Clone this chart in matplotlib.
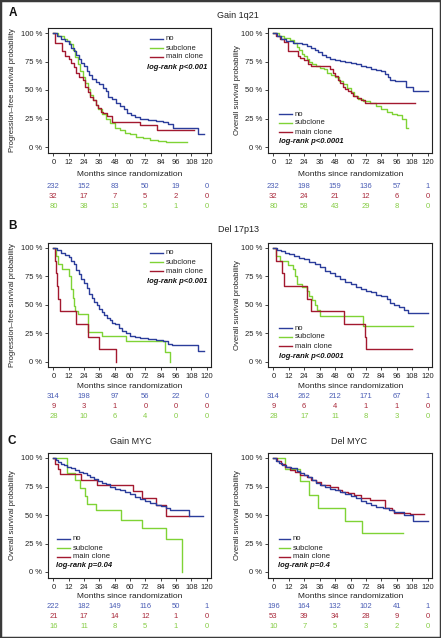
import matplotlib
matplotlib.use("Agg")
import matplotlib.pyplot as plt
import matplotlib.transforms as mtransforms
from matplotlib.lines import Line2D
from matplotlib.patches import Rectangle

plt.rcParams['font.family'] = ['Liberation Sans', 'DejaVu Sans']

# ---------------- data ----------------
month_ticks = [0, 12, 24, 36, 48, 60, 72, 84, 96, 108, 120]
risk_months = [0, 24, 48, 72, 96, 120]
surv_ticks = [0, 0.25, 0.5, 0.75, 1.0]
surv_labels = ['0 %', '25 %', '50 %', '75 %', '100 %']
group_labels = ['no', 'subclone', 'main clone']

# A: Gain 1q21, progression-free survival
a_pfs_no_t = [0, 3, 6, 9, 12, 14, 16, 18, 20, 22, 24, 26, 28, 30, 33, 36, 39, 41, 43, 46, 49, 52, 55, 58, 61, 64, 68, 74, 80, 86, 90, 94, 113, 118]
a_pfs_no_s = [1.0, 0.97, 0.95, 0.93, 0.90, 0.87, 0.84, 0.81, 0.77, 0.74, 0.71, 0.67, 0.63, 0.60, 0.57, 0.55, 0.52, 0.49, 0.44, 0.42, 0.39, 0.36, 0.33, 0.30, 0.28, 0.26, 0.25, 0.24, 0.23, 0.22, 0.20, 0.17, 0.115, 0.115]
a_pfs_sub_t = [0, 4, 8, 11, 13, 15, 17, 19, 21, 23, 25, 27, 29, 31, 33, 35, 38, 41, 44, 48, 52, 56, 60, 65, 70, 76, 82, 88, 96, 105]
a_pfs_sub_s = [1.0, 0.97, 0.95, 0.93, 0.90, 0.85, 0.79, 0.73, 0.67, 0.61, 0.56, 0.51, 0.46, 0.41, 0.37, 0.33, 0.29, 0.25, 0.21, 0.17, 0.145, 0.125, 0.11, 0.09, 0.075, 0.065, 0.055, 0.045, 0.04, 0.04]
a_pfs_main_t = [0, 1, 7, 9, 12, 14, 16, 18, 20, 23, 25, 27, 29, 31, 33, 35, 37, 39, 42, 46, 68, 81, 110]
a_pfs_main_s = [1.0, 0.91, 0.84, 0.80, 0.77, 0.74, 0.70, 0.65, 0.61, 0.59, 0.53, 0.48, 0.44, 0.41, 0.37, 0.34, 0.31, 0.30, 0.27, 0.22, 0.19, 0.15, 0.15]
a_pfs_risk = [[232, 152, 83, 50, 19, 0], [32, 17, 7, 5, 2, 0], [80, 38, 13, 5, 1, 0]]

# A: Gain 1q21, overall survival
a_os_no_t = [0, 3, 6, 10, 15, 22, 26, 29, 32, 35, 38, 41, 44, 48, 52, 56, 60, 64, 68, 72, 76, 80, 84, 87, 89, 91, 95, 103, 109, 120]
a_os_no_s = [1.0, 0.97, 0.95, 0.93, 0.915, 0.905, 0.89, 0.87, 0.85, 0.83, 0.81, 0.79, 0.775, 0.765, 0.755, 0.745, 0.735, 0.725, 0.71, 0.70, 0.685, 0.675, 0.665, 0.64, 0.61, 0.59, 0.575, 0.53, 0.49, 0.49]
a_os_sub_t = [0, 4, 8, 13, 16, 18, 20, 22, 24, 26, 28, 30, 33, 36, 39, 42, 45, 48, 51, 54, 57, 60, 63, 66, 70, 75, 80, 84, 88, 92, 96, 100, 103, 105]
a_os_sub_s = [1.0, 0.97, 0.955, 0.94, 0.91, 0.88, 0.85, 0.82, 0.80, 0.77, 0.75, 0.73, 0.71, 0.69, 0.68, 0.65, 0.63, 0.61, 0.58, 0.55, 0.52, 0.48, 0.45, 0.42, 0.40, 0.39, 0.36, 0.33, 0.31, 0.29, 0.28, 0.25, 0.17, 0.17]
a_os_main_t = [0, 2, 5, 8, 11, 19, 21, 24, 27, 29, 44, 46, 48, 50, 52, 54, 56, 58, 60, 62, 65, 68, 71, 110]
a_os_main_s = [1.0, 0.97, 0.95, 0.92, 0.84, 0.80, 0.78, 0.76, 0.73, 0.71, 0.68, 0.65, 0.62, 0.59, 0.56, 0.53, 0.51, 0.49, 0.47, 0.45, 0.43, 0.41, 0.39, 0.39]
a_os_risk = [[232, 198, 159, 136, 57, 1], [32, 24, 21, 12, 6, 0], [80, 58, 43, 29, 8, 0]]

# B: Del 17p13, progression-free survival
b_pfs_no_t = [0, 3, 6, 9, 12, 14, 16, 18, 20, 22, 24, 26, 28, 30, 32, 34, 36, 38, 40, 42, 44, 46, 48, 51, 54, 57, 60, 64, 68, 74, 80, 86, 90, 93, 113, 118]
b_pfs_no_s = [1.0, 0.98, 0.96, 0.94, 0.92, 0.89, 0.86, 0.81, 0.77, 0.73, 0.69, 0.645, 0.60, 0.565, 0.53, 0.50, 0.465, 0.44, 0.415, 0.39, 0.365, 0.345, 0.33, 0.30, 0.275, 0.25, 0.23, 0.22, 0.21, 0.20, 0.19, 0.18, 0.16, 0.145, 0.095, 0.095]
b_pfs_sub_t = [0, 2, 4, 7, 12, 14, 15, 16, 17, 19, 27, 38, 57, 87, 91]
b_pfs_sub_s = [1.0, 0.93, 0.86, 0.82, 0.75, 0.64, 0.56, 0.49, 0.45, 0.42, 0.26, 0.225, 0.18, 0.09, 0.0]
b_pfs_main_t = [0, 1, 2, 3, 4, 5, 18, 27, 36, 49]
b_pfs_main_s = [1.0, 0.889, 0.778, 0.667, 0.556, 0.444, 0.333, 0.222, 0.111, 0.0]
b_pfs_risk = [[314, 198, 97, 56, 22, 0], [9, 3, 1, 0, 0, 0], [28, 10, 6, 4, 0, 0]]

# B: Del 17p13, overall survival
b_os_no_t = [0, 3, 6, 9, 12, 16, 20, 24, 28, 32, 36, 40, 44, 48, 52, 56, 60, 64, 68, 72, 76, 80, 84, 88, 91, 94, 98, 102, 105, 120]
b_os_no_s = [1.0, 0.985, 0.975, 0.96, 0.945, 0.93, 0.915, 0.90, 0.88, 0.86, 0.83, 0.80, 0.78, 0.755, 0.73, 0.70, 0.68, 0.66, 0.64, 0.625, 0.61, 0.59, 0.575, 0.55, 0.52, 0.50, 0.485, 0.46, 0.43, 0.43]
b_os_sub_t = [0, 2, 5, 11, 15, 17, 18, 22, 26, 28, 30, 32, 34, 36, 70, 109]
b_os_sub_s = [1.0, 0.93, 0.89, 0.855, 0.82, 0.75, 0.68, 0.66, 0.62, 0.58, 0.54, 0.50, 0.46, 0.40, 0.32, 0.32]
b_os_main_t = [0, 2, 7, 8, 26, 29, 55, 71, 72, 108]
b_os_main_s = [1.0, 0.889, 0.778, 0.667, 0.556, 0.444, 0.333, 0.222, 0.111, 0.111]
b_os_risk = [[314, 262, 212, 171, 67, 1], [9, 6, 4, 1, 1, 0], [28, 17, 11, 8, 3, 0]]

# C: Gain MYC, overall survival
c_gain_no_t = [0, 2, 4, 6, 8, 11, 14, 17, 20, 23, 26, 29, 32, 35, 38, 41, 44, 48, 52, 56, 60, 64, 68, 72, 76, 80, 84, 88, 91, 106, 117]
c_gain_no_s = [1.0, 0.98, 0.965, 0.95, 0.935, 0.925, 0.91, 0.895, 0.88, 0.865, 0.85, 0.835, 0.82, 0.80, 0.785, 0.77, 0.75, 0.73, 0.715, 0.70, 0.68, 0.66, 0.64, 0.625, 0.605, 0.59, 0.575, 0.56, 0.545, 0.495, 0.495]
c_gain_sub_t = [0, 11, 17, 21, 25, 26, 33, 53, 69, 88, 101]
c_gain_sub_s = [1.0, 0.87, 0.81, 0.74, 0.67, 0.60, 0.54, 0.46, 0.39, 0.29, 0.0]
c_gain_main_t = [0, 1, 4, 5, 22, 34, 62, 69, 80, 88, 106]
c_gain_main_s = [1.0, 0.95, 0.905, 0.86, 0.81, 0.76, 0.71, 0.65, 0.59, 0.49, 0.49]
c_gain_risk = [[222, 182, 149, 116, 50, 1], [21, 17, 14, 12, 1, 0], [16, 11, 8, 5, 1, 0]]

# C: Del MYC, overall survival
c_del_no_t = [0, 2, 4, 7, 10, 14, 18, 21, 24, 27, 30, 33, 36, 40, 44, 48, 52, 56, 60, 64, 68, 72, 76, 80, 85, 90, 94, 102, 109, 120]
c_del_no_s = [1.0, 0.97, 0.955, 0.94, 0.925, 0.91, 0.89, 0.87, 0.85, 0.83, 0.805, 0.785, 0.765, 0.745, 0.73, 0.72, 0.70, 0.685, 0.665, 0.645, 0.625, 0.605, 0.585, 0.57, 0.56, 0.545, 0.53, 0.50, 0.445, 0.445]
c_del_sub_t = [0, 9, 21, 28, 35, 56, 69, 101]
c_del_sub_s = [1.0, 0.9, 0.8, 0.675, 0.56, 0.45, 0.34, 0.34]
c_del_main_t = [0, 3, 6, 9, 13, 17, 21, 26, 29, 33, 37, 44, 50, 53, 58, 63, 68, 75, 87, 92, 94, 106, 117]
c_del_main_s = [1.0, 0.97, 0.95, 0.92, 0.895, 0.88, 0.85, 0.835, 0.805, 0.79, 0.765, 0.75, 0.72, 0.70, 0.69, 0.675, 0.65, 0.635, 0.56, 0.545, 0.52, 0.505, 0.505]
c_del_risk = [[196, 164, 132, 102, 41, 1], [53, 39, 34, 28, 9, 0], [10, 7, 5, 3, 2, 0]]

# ---------------- styling ----------------
W, H = 441, 638
blue, green, red = '#2b3d9b', '#7fd335', '#a3192f'
risk_colors = ['#4a5db5', '#a8283a', '#86cc45']  # no, main clone, subclone
narrow = ['Liberation Sans Narrow', 'Liberation Sans', 'DejaVu Sans']

fig = plt.figure(figsize=(W / 100, H / 100), dpi=100)


def px(x, y):
    return x / W, 1 - y / H


def draw_panel(box, curves, risk, risk_y, ylabel, ylabel_x, xlabel_y, leg, pval):
    x0, y0, x1, y1 = box
    ax = fig.add_axes([x0 / W, 1 - y1 / H, (x1 - x0) / W, (y1 - y0) / H])
    # draw order: subclone, main clone, no
    for (t, s), color in zip(curves, [green, red, blue]):
        ax.step(t, s, where='post', color=color, lw=1.0)
    ax.set_xlim(-4.2, 123.4)
    # 0..1 spans about 114 px, with ~5 px slack top and bottom
    slack = 5.0 / 114
    span = (y1 - y0) / 114.0
    ax.set_ylim(-(span - 1 - slack), 1 + slack)
    ax.set_xticks(month_ticks)
    ax.set_yticks(surv_ticks)
    ax.set_yticklabels(surv_labels)
    ax.tick_params(labelsize=5.5, length=2.5, width=0.6, pad=1.5, colors='#222222')
    for sp in ax.spines.values():
        sp.set_linewidth(0.8)
        sp.set_color('#222222')

    # axis titles
    fig.text(*px(ylabel_x, (y0 + y1) / 2), ylabel, rotation=90, ha='center', va='center',
             fontsize=5.5, family=narrow, color='#222222')
    xmid = ax.transData.transform((60, 0))[0] / fig.dpi / fig.get_figwidth()
    fig.text(xmid, px(0, xlabel_y)[1], 'Months since randomization', ha='center', va='center',
             fontsize=6, family=narrow, color='#222222')

    # numbers at risk
    trans = mtransforms.blended_transform_factory(ax.transData, fig.transFigure)
    for row, ry, col in zip(risk, risk_y, risk_colors):
        for m, n in zip(risk_months, row):
            ax.text(m, px(0, ry)[1], str(n), transform=trans, ha='center', va='center',
                    fontsize=5.5, color=col, clip_on=False)

    # legend
    lx0, lx1, tx, ys = leg
    for lab, col, ly in zip(group_labels, [blue, green, red], ys):
        fig.add_artist(Line2D([lx0 / W, lx1 / W], [1 - ly / H, 1 - ly / H], color=col, lw=1.0))
        fig.text(*px(tx, ly), lab, ha='left', va='center', fontsize=5.5, color='#222222')
    ptx, pty, pha, ptxt = pval
    fig.text(*px(ptx, pty), ptxt, ha=pha, va='center', fontsize=5.5,
             fontweight='bold', fontstyle='italic', color='#111111')
    return ax


pfs_lab = 'Progression\u2013free survival probability'
os_lab = 'Overall survival probability'

# row A
draw_panel((48, 28, 211, 153),
           [(a_pfs_sub_t, a_pfs_sub_s), (a_pfs_main_t, a_pfs_main_s), (a_pfs_no_t, a_pfs_no_s)],
           a_pfs_risk, (187, 197, 206), pfs_lab, 13, 174,
           (150, 163, 166, (39, 48, 57)), (207, 67.5, 'right', 'log-rank p<0.001'))
draw_panel((268, 28, 432, 153),
           [(a_os_sub_t, a_os_sub_s), (a_os_main_t, a_os_main_s), (a_os_no_t, a_os_no_s)],
           a_os_risk, (187, 197, 206), os_lab, 237, 174,
           (279, 292, 295, (114, 123, 132)), (279, 142, 'left', 'log-rank p<0.0001'))

# row B
draw_panel((48, 243, 211, 367),
           [(b_pfs_sub_t, b_pfs_sub_s), (b_pfs_main_t, b_pfs_main_s), (b_pfs_no_t, b_pfs_no_s)],
           b_pfs_risk, (397, 407, 417), pfs_lab, 13, 386,
           (150, 163, 166, (253, 262, 271)), (207, 281.5, 'right', 'log-rank p<0.001'))
draw_panel((268, 243, 432, 367),
           [(b_os_sub_t, b_os_sub_s), (b_os_main_t, b_os_main_s), (b_os_no_t, b_os_no_s)],
           b_os_risk, (397, 407, 417), os_lab, 237, 386,
           (279, 292, 295, (328, 337, 346)), (279, 356.5, 'left', 'log-rank p<0.0001'))

# row C
draw_panel((48, 453, 211, 578),
           [(c_gain_sub_t, c_gain_sub_s), (c_gain_main_t, c_gain_main_s), (c_gain_no_t, c_gain_no_s)],
           c_gain_risk, (607, 617, 627), os_lab, 13, 596,
           (57, 70, 73, (539, 548, 557)), (56, 565.5, 'left', 'log-rank p=0.04'))
draw_panel((268, 453, 432, 578),
           [(c_del_sub_t, c_del_sub_s), (c_del_main_t, c_del_main_s), (c_del_no_t, c_del_no_s)],
           c_del_risk, (607, 617, 627), os_lab, 237, 596,
           (279, 290, 293, (539, 548, 557)), (278, 565.5, 'left', 'log-rank p=0.4'))

# titles and panel letters
for txt, x, y in [('Gain 1q21', 238, 15), ('Del 17p13', 238, 229), ('Gain MYC', 131, 442), ('Del MYC', 349, 442)]:
    fig.text(*px(x, y), txt, ha='center', va='center', fontsize=6.5, color='#222222')
for txt, x, y in [('A', 13, 13), ('B', 12.5, 226.5), ('C', 12, 441)]:
    fig.text(*px(x, y), txt, ha='center', va='center', fontsize=8.5, fontweight='bold', color='#111111')

# outer frame
fig.add_artist(Rectangle((0, 0), 1, 1, transform=fig.transFigure, fill=False,
                         edgecolor='#3a3a3a', lw=2.5))

fig.savefig('out.png', dpi=100)
